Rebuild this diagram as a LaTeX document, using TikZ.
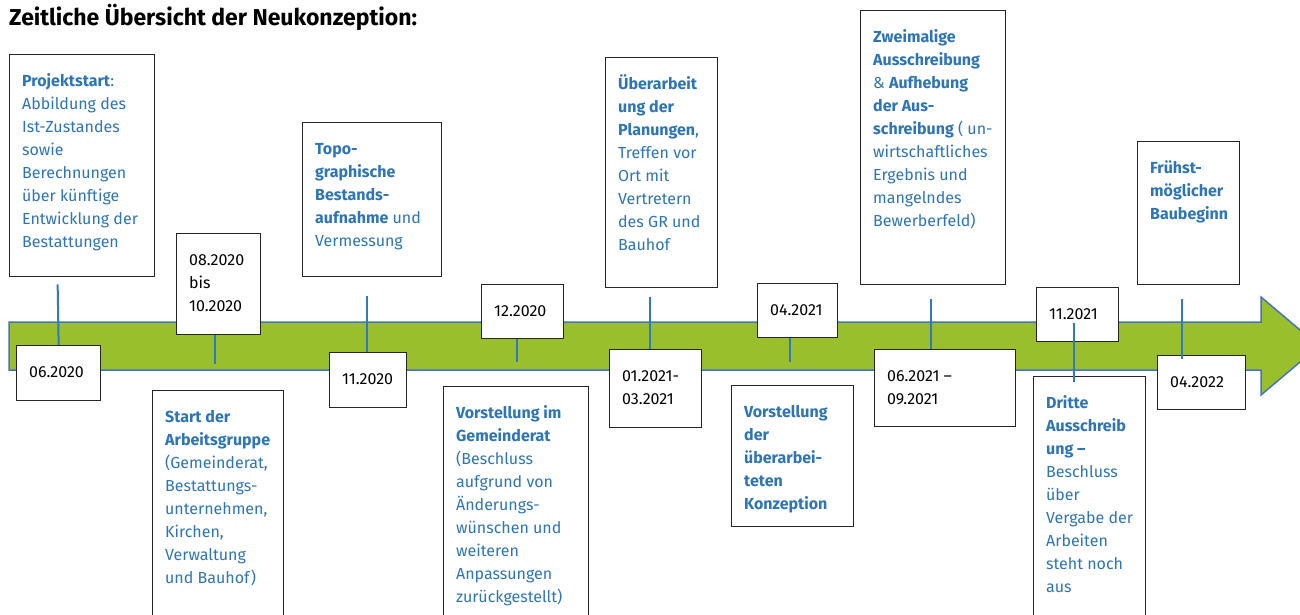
\documentclass[tikz,border=0pt]{standalone}
\usepackage{fontspec}
\setmainfont{Fira Sans}
\usepackage{tikz}
\usetikzlibrary{calc}

\definecolor{textblau}{RGB}{46,117,182}
\definecolor{stielblau}{RGB}{50,120,192}
\definecolor{pfeilgruen}{RGB}{153,192,44}
\definecolor{pfeilrand}{RGB}{68,114,196}

\tikzset{
    kasten/.style={draw=black!85, line width=1.3pt, fill=white, anchor=north west,
        inner xsep=12.5pt, inner ysep=16pt, font=\fontsize{16}{23}\selectfont},
    datum/.style={kasten, text=black},
    ereignis/.style={kasten, text=textblau},
    stiel/.style={draw=stielblau, line width=2pt},
}

% box text: width, height of the box, then the lines
\newcommand{\feld}[3]{\parbox[t][\dimexpr#2pt-32pt\relax][t]{\dimexpr#1pt-25pt\relax}{\raggedright\strut#3}}

\begin{document}
\begin{tikzpicture}[x=1pt, y=-1pt]

    \useasboundingbox (0,0) rectangle (1300,614);
    \clip (0,0) rectangle (1300,614);

    \node[anchor=west, inner sep=0, font=\fontsize{23}{27}\selectfont\bfseries] (titel) at (9,17) {Zeitliche Übersicht der Neukonzeption:};

    % the arrow
    \filldraw[pfeilrand, fill=pfeilgruen, line width=1.5pt]
        (9,322) -- (1261,322) -- (1261,297) -- (1319,346)
        -- (1261,395) -- (1261,370) -- (9,370) -- cycle;

    % events above and below
    \node[ereignis] (projekt) at (9,54) {\feld{145}{222}{\textbf{Projektstart}:\\ Abbildung des\\ Ist-Zustandes\\ sowie\\ Berechnungen\\ über künftige\\ Entwicklung der\\ Bestattungen}};
    \node[ereignis] (arbeit) at (152,390) {\feld{131}{250}{\textbf{Start der}\\ \textbf{Arbeitsgruppe}\\ (Gemeinderat,\\ Bestattungs-\\ unternehmen,\\ Kirchen,\\ Verwaltung\\ und Bauhof)}};
    \node[ereignis] (topo) at (302,122) {\feld{139}{154}{\textbf{Topo-}\\ \textbf{graphische}\\ \textbf{Bestands-}\\ \textbf{aufnahme} und\\ Vermessung}};
    \node[ereignis] (gemeinde) at (443,386) {\feld{145}{254}{\textbf{Vorstellung im}\\ \textbf{Gemeinderat}\\ (Beschluss\\ aufgrund von\\ Änderungs-\\ wünschen und\\ weiteren\\ Anpassungen\\ zurückgestellt)}};
    \node[ereignis] (ueber) at (605,57) {\feld{112}{230}{\textbf{Überarbeit}\\ \textbf{ung der}\\ \textbf{Planungen},\\ Treffen vor\\ Ort mit\\ Vertretern\\ des GR und\\ Bauhof}};
    \node[ereignis] (vorst) at (731,385) {\feld{122}{141}{\textbf{Vorstellung}\\ \textbf{der}\\ \textbf{überarbei-}\\ \textbf{teten}\\ \textbf{Konzeption}}};
    \node[ereignis] (zweimal) at (860,10) {\feld{145}{274}{\textbf{Zweimalige}\\ \textbf{Ausschreibung}\\ \& \textbf{Aufhebung}\\ \textbf{der Aus-}\\ \textbf{schreibung} ( un-\\ wirtschaftliches\\ Ergebnis und\\ mangelndes\\ Bewerberfeld)}};
    \node[ereignis] (dritte) at (1033,376) {\feld{112}{264}{\textbf{Dritte}\\ \textbf{Ausschreib}\\ \textbf{ung –}\\ Beschluss\\ über\\ Vergabe der\\ Arbeiten\\ steht noch\\ aus}};
    \node[ereignis] (frueh) at (1137,141) {\feld{102}{143}{\textbf{Frühst-}\\ \textbf{möglicher}\\ \textbf{Baubeginn}}};

    % dates on the arrow
    \node[datum] (d0620) at (16,345) {\feld{84}{55}{06.2020}};
    \node[datum] (d0820) at (176,233) {\feld{84}{101}{08.2020\\ bis\\ 10.2020}};
    \node[datum] (d1120) at (329,352) {\feld{77}{55}{11.2020}};
    \node[datum] (d1220) at (481,284) {\feld{82}{54}{12.2020}};
    \node[datum] (d0121) at (609,349) {\feld{92}{78}{01.2021-\\ 03.2021}};
    \node[datum] (d0421) at (757,283) {\feld{80}{54}{04.2021}};
    \node[datum] (d0621) at (874,349) {\feld{141}{77}{06.2021 –\\ 09.2021}};
    \node[datum] (d1121) at (1036,287) {\feld{82}{54}{11.2021}};
    \node[datum] (d0422) at (1157,355) {\feld{88}{54}{04.2022}};

    % stems
    \draw[stiel] (d0620.north) -- ($(d0620.north |- projekt.south)+(-1,7)$);
    \draw[stiel] ($(d0820.south)+(-4,0)$) -- ++(0,29);
    \draw[stiel] ($(d1120.north)+(-1,0)$) -- ($(d1120.north |- topo.south)+(-1,19)$);
    \draw[stiel] ($(d1220.south)+(-6,0)$) -- ++(0,23);
    \draw[stiel] ($(d0121.north)+(-6,0)$) -- ($(d0121.north |- ueber.south)+(-6,9)$);
    \draw[stiel] ($(d0421.south)+(-8,0)$) -- ++(0,24);
    \draw[stiel] ($(zweimal.south)+(-2,14)$) -- ($(zweimal.south |- d0621.north)+(-2,0)$);
    \draw[stiel] ($(d1121.south)+(-4,-19)$) -- ($(d1121.south |- dritte.north)+(-4,6)$);
    \draw[stiel] ($(frueh.south)+(-7,14)$) -- ($(frueh.south |- d0422.north)+(-7,4)$);

\end{tikzpicture}
\end{document}
